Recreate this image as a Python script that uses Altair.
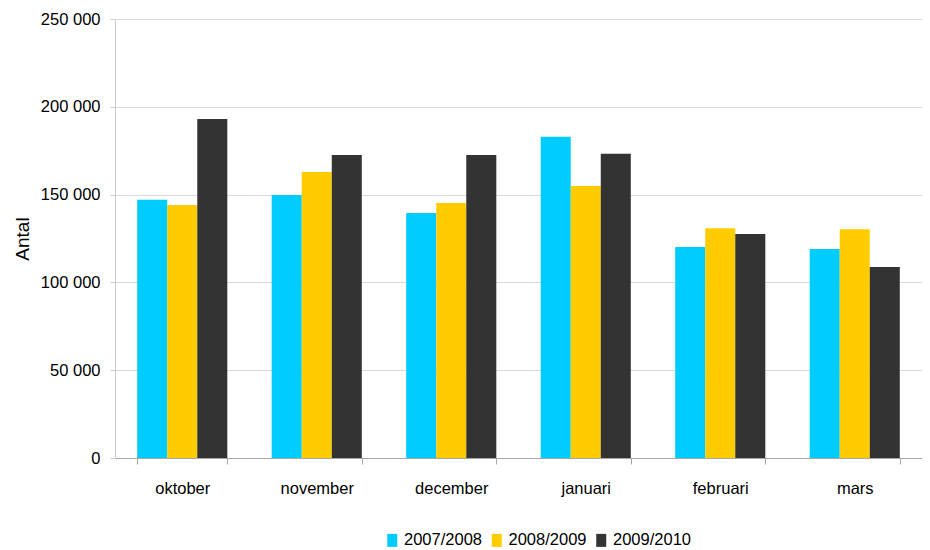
import altair as alt
import pandas as pd

months = ["oktober", "november", "december", "januari", "februari", "mars"]
series = ["2007/2008", "2008/2009", "2009/2010"]
s2007 = [147000, 149800, 139500, 182900, 120100, 119000]
s2008 = [144100, 162900, 145200, 154900, 130900, 130300]
s2009 = [193100, 172600, 172600, 173200, 127500, 108700]
colors = ["#00CCFF", "#FFCC00", "#333333"]

rows = []
for name, vals in zip(series, [s2007, s2008, s2009]):
    for m, v in zip(months, vals):
        rows.append({"month": m, "season": name, "value": v})
df = pd.DataFrame(rows)

FONT = "Liberation Sans"

chart = alt.Chart(df).mark_bar().encode(
    x=alt.X("month:N", sort=months, title=None,
            scale=alt.Scale(paddingInner=0.33, paddingOuter=0.165),
            axis=alt.Axis(labelAngle=0, tickBand="extent", tickSize=6,
                          tickColor="#a6a6a6", domainColor="#a6a6a6",
                          labelPadding=16, labelFontSize=16.5, labelFont=FONT,
                          labelColor="#000000", grid=False)),
    xOffset=alt.XOffset("season:N", sort=series, scale=alt.Scale(paddingInner=0, paddingOuter=0)),
    y=alt.Y("value:Q", title="Antal",
            scale=alt.Scale(domain=[0, 250000], nice=False),
            axis=alt.Axis(values=[0, 50000, 100000, 150000, 200000, 250000],
                          labelExpr="replace(format(datum.value, ','), regexp(',', 'g'), ' ')",
                          tickSize=5, tickColor="#cccccc", domainColor="#cccccc",
                          gridColor="#d9d9d9", labelPadding=10, labelFontSize=16.5,
                          labelFont=FONT, labelColor="#000000",
                          titleFont=FONT, titleFontSize=19, titleFontWeight="normal",
                          titleColor="#000000", titlePadding=8)),
    color=alt.Color("season:N", sort=series,
                    scale=alt.Scale(domain=series, range=colors),
                    legend=alt.Legend(title=None, orient="none", direction="horizontal",
                                      legendX=269, legendY=513,
                                      symbolType="M-0.77,-1H0.77V1H-0.77Z",
                                      symbolSize=169, symbolStrokeWidth=0,
                                      labelFontSize=16.5, labelFont=FONT,
                                      labelColor="#000000", labelOffset=3.5,
                                      columnPadding=6.5)),
).properties(
    width=807, height=439,
    autosize=alt.AutoSizeParams(type="none"),
    padding={"left": 107, "top": 11, "right": 0, "bottom": 92},
).configure_view(stroke=None).configure_legend(symbolOpacity=1)

chart.save("out.html", embed_options={"renderer": "svg", "actions": False})
